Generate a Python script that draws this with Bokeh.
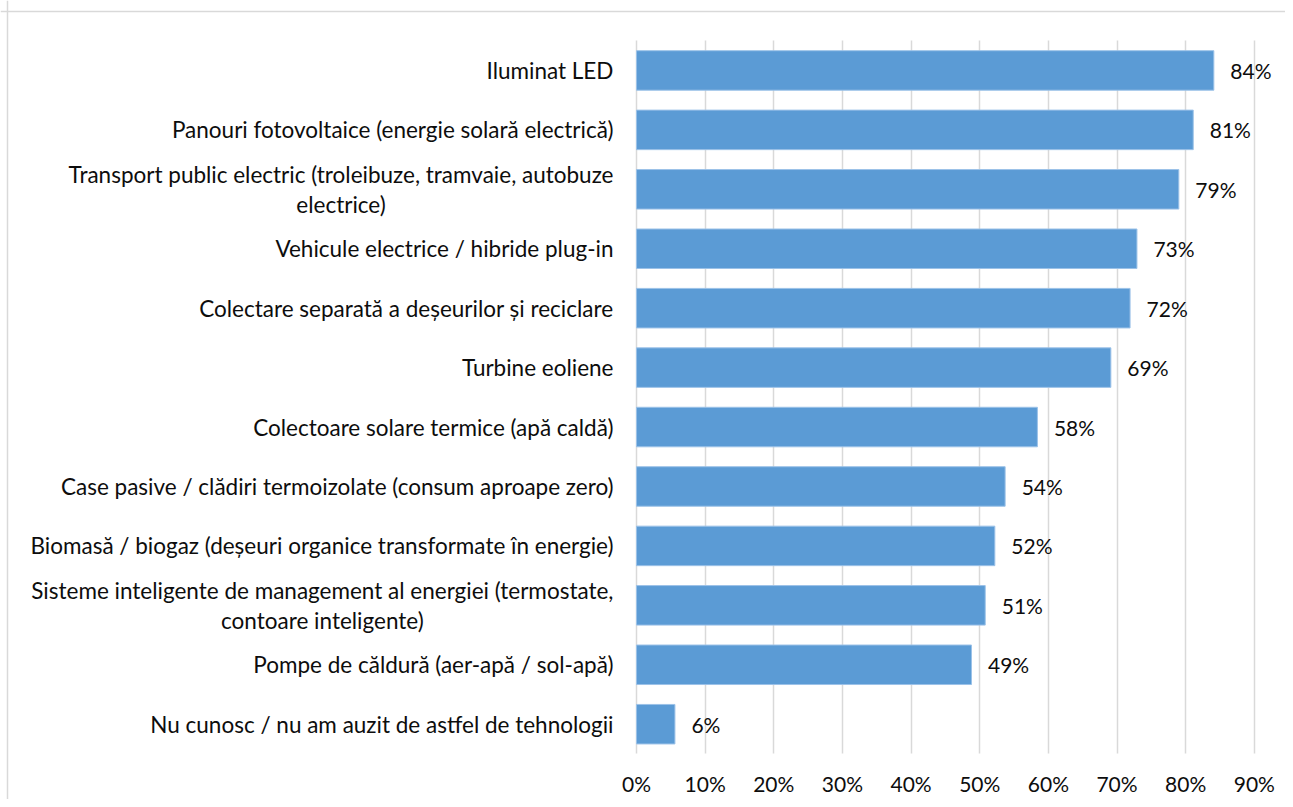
from bokeh.plotting import figure
from bokeh.models import ColumnDataSource, Range1d, Span, FixedTicker
from bokeh.core.properties import value
from bokeh.embed import file_html
from bokeh.resources import INLINE

categories = [
    "Iluminat LED",
    "Panouri fotovoltaice (energie solară electrică)",
    "Transport public electric (troleibuze, tramvaie, autobuze\nelectrice)",
    "Vehicule electrice / hibride plug-in",
    "Colectare separată a deșeurilor și reciclare",
    "Turbine eoliene",
    "Colectoare solare termice (apă caldă)",
    "Case pasive / clădiri termoizolate (consum aproape zero)",
    "Biomasă / biogaz (deșeuri organice transformate în energie)",
    "Sisteme inteligente de management al energiei (termostate,\ncontoare inteligente)",
    "Pompe de căldură (aer-apă / sol-apă)",
    "Nu cunosc / nu am auzit de astfel de tehnologii",
]
values = [0.841, 0.811, 0.790, 0.729, 0.719, 0.691, 0.584, 0.537, 0.522, 0.508, 0.488, 0.056]
value_labels = ["84%", "81%", "79%", "73%", "72%", "69%", "58%", "54%", "52%", "51%", "49%", "6%"]
ticks = [0.0, 0.1, 0.2, 0.3, 0.4, 0.5, 0.6, 0.7, 0.8, 0.9]
tick_labels = ["0%", "10%", "20%", "30%", "40%", "50%", "60%", "70%", "80%", "90%"]

n = len(categories)
pos = [n - 1 - i for i in range(n)]

FONT = value("Lato")
TXT = "#0D0D0D"

p = figure(
    width=1285, height=799,
    x_range=Range1d(-0.9264, 0.9454),
    y_range=Range1d(-1.267, 12.177),
    output_backend="svg", toolbar_location=None,
    min_border_left=0, min_border_right=0, min_border_top=0, min_border_bottom=0,
)
p.xaxis.visible = False
p.yaxis.visible = False
p.ygrid.visible = False
p.outline_line_color = None
p.background_fill_color = "white"
p.border_fill_color = "white"

p.xgrid.ticker = FixedTicker(ticks=ticks)
p.xgrid.grid_line_color = "#D9D9D9"
p.xgrid.grid_line_width = 1.5
p.xgrid.bounds = (0, 0.9)
p.xgrid.cross_bounds = (-0.5, n - 0.5)

src = ColumnDataSource(dict(y=pos, v=values, cat=categories, lab=value_labels))

p.hbar(y="y", right="v", left=0, height=0.665, source=src,
       fill_color="#5B9BD5", line_color="#9CC2E8", line_width=1)

# value labels
p.text(x="v", y="y", text="lab", source=src, x_offset=16.5,
       text_font=FONT, text_font_size="21px", text_color=TXT,
       text_align="left", text_baseline="middle")

# category labels
p.text(x=0, y="y", text="cat", source=src, x_offset=-23,
       anchor=value("center_right"), text_align="center", text_baseline="middle",
       text_line_height=1.09,
       text_font=FONT, text_font_size="22.5px", text_color=TXT)

# x tick labels
tsrc = ColumnDataSource(dict(x=ticks, t=tick_labels))
p.text(x="x", y=-1.0, text="t", source=tsrc,
       text_font=FONT, text_font_size="21px", text_color=TXT,
       text_align="center", text_baseline="middle")

# outer chart border (top and left)
p.add_layout(Span(location=11.992, dimension="width", line_color="#D9D9D9", line_width=1.5))
p.add_layout(Span(location=-0.9162, dimension="height", line_color="#D9D9D9", line_width=1.5))

open("out.html", "w").write(file_html(p, INLINE))
